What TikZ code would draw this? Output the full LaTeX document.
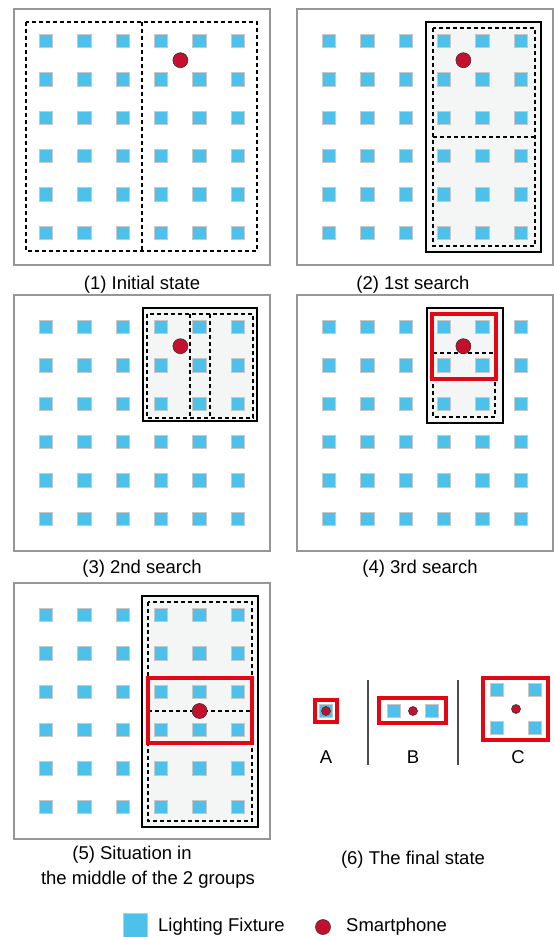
\documentclass[tikz,border=0pt]{standalone}
\usepackage{fontspec}
\setmainfont{Liberation Sans}
\usepackage{tikz}

\definecolor{lampblue}{RGB}{77,193,233}
\definecolor{lampedge}{RGB}{200,200,200}
\definecolor{phonered}{RGB}{196,16,44}
\definecolor{hitred}{RGB}{227,6,19}
\definecolor{framegray}{RGB}{150,150,150}
\definecolor{searchfill}{RGB}{244,246,246}

% 6x6 grid of lighting fixtures inside one panel
\newcommand{\lampgrid}[1]{%
  \foreach \i in {0,...,5}{%
    \foreach \j in {0,...,5}{%
      \node[fixture] (#1-\i-\j) at ({32+38.4*\i},{32+38.4*\j}) {};
    }%
  }%
}

\begin{document}
\begin{tikzpicture}[
  x=1pt,y=-1pt,
  fixture/.style={rectangle,draw=lampedge,line width=1pt,fill=lampblue,inner sep=0pt,minimum size=13.5pt},
  phone/.style={circle,draw=black!80,line width=0.6pt,fill=phonered,inner sep=0pt,minimum size=15pt},
  smallphone/.style={phone,minimum size=9pt},
  frame/.style={draw=framegray,line width=2pt},
  searchbox/.style={draw=black,line width=1.8pt,fill=searchfill},
  dashbox/.style={draw=black,line width=1.4pt,dash pattern=on 4pt off 3pt},
  hitbox/.style={draw=hitred,line width=3.6pt},
  caption/.style={font=\fontsize{18.5}{22}\selectfont,anchor=base,inner sep=0pt},
]
\useasboundingbox (0,0) rectangle (554,937);

% ==== (1) INITIAL STATE ====
\begin{scope}[shift={(14,9)}]
  \draw[frame] (0,0) rectangle (256,256);
  \lampgrid{a}
  \draw[dashbox] (12,13) rectangle (243,242);
  \draw[dashbox] (128,13) -- (128,242);
  \node[phone] (phoneA) at (166.4,51.2) {};
\end{scope}
\node[caption] (capA) at (142,289) {(1) Initial state};

% ==== (2) 1ST SEARCH ====
\begin{scope}[shift={(297,9)}]
  \draw[frame] (0,0) rectangle (256,256);
  \draw[searchbox] (129,13) rectangle (244,243);
  \lampgrid{b}
  \draw[dashbox] (136,19) rectangle (238,237);
  \draw[dashbox] (136,128) -- (238,128);
  \node[phone] (phoneB) at (166.4,51.2) {};
\end{scope}
\node[caption] (capB) at (413,289) {(2) 1st search};

% ==== (3) 2ND SEARCH ====
\begin{scope}[shift={(14,295)}]
  \draw[frame] (0,0) rectangle (256,256);
  \draw[searchbox] (129,13) rectangle (243,126);
  \lampgrid{c}
  \draw[dashbox] (133,19) rectangle (239,123);
  \draw[dashbox] (176,19) -- (176,123);
  \draw[dashbox] (196,19) -- (196,123);
  \node[phone] (phoneC) at (166.4,51.2) {};
\end{scope}
\node[caption] (capC) at (142,573) {(3) 2nd search};

% ==== (4) 3RD SEARCH ====
\begin{scope}[shift={(297,295)}]
  \draw[frame] (0,0) rectangle (256,256);
  \draw[searchbox] (130,13) rectangle (206,128);
  \lampgrid{d}
  \draw[dashbox] (136,19) rectangle (198,122);
  \draw[dashbox] (136,58) -- (198,58);
  \draw[hitbox] (135,19) rectangle (199,84);
  \node[phone] (phoneD) at (166.4,51.2) {};
\end{scope}
\node[caption] (capD) at (420,573) {(4) 3rd search};

% ==== (5) MIDDLE OF THE 2 GROUPS ====
\begin{scope}[shift={(14,583)}]
  \draw[frame] (0,0) rectangle (256,256);
  \draw[searchbox] (128,13) rectangle (244,244);
  \lampgrid{e}
  \draw[dashbox] (134,19) rectangle (238,238);
  \draw[dashbox] (134,128) -- (238,128);
  \draw[hitbox] (134,95) rectangle (238,160);
  \node[phone] (phoneE) at (185.6,128) {};
\end{scope}
\node[caption] (capEa) at (132,859) {(5) Situation in};
\node[caption] (capEb) at (148,884) {the middle of the 2 groups};

% ==== (6) FINAL STATE ====
% A: phone on one fixture
\node[fixture] (fA) at (326,711) {};
\draw[hitbox,line width=3.3pt] (315,700) rectangle (337,722);
\node[smallphone] (phoneFA) at (326,711) {};
\node[caption] (labA) at (326,763) {A};

\draw[black!70,line width=1.2pt] (368,680) -- (368,765);

% B: phone between two fixtures
\node[fixture] (fB1) at (394,711) {};
\node[fixture] (fB2) at (432,711) {};
\draw[hitbox,line width=3.3pt] (379,698) rectangle (446,723);
\node[smallphone] (phoneFB) at (413,711) {};
\node[caption] (labB) at (413,763) {B};

\draw[black!70,line width=1.2pt] (458,680) -- (458,765);

% C: phone among four fixtures
\node[fixture] (fC1) at (497,690) {};
\node[fixture] (fC2) at (535,690) {};
\node[fixture] (fC3) at (497,728) {};
\node[fixture] (fC4) at (535,728) {};
\draw[hitbox,line width=3.3pt] (483,678) rectangle (548,740);
\node[smallphone] (phoneFC) at (516,709) {};
\node[caption] (labC) at (518,763) {C};

\node[caption] (capF) at (413,864) {(6) The final state};

% ==== LEGEND ====
\node[fixture,minimum size=24pt] (keyLamp) at (135.5,925) {};
\node[caption,anchor=base west] (keyLampTxt) at (158,931) {Lighting Fixture};
\node[phone] (keyPhone) at (323,927) {};
\node[caption,anchor=base west] (keyPhoneTxt) at (346,931) {Smartphone};

\end{tikzpicture}
\end{document}
